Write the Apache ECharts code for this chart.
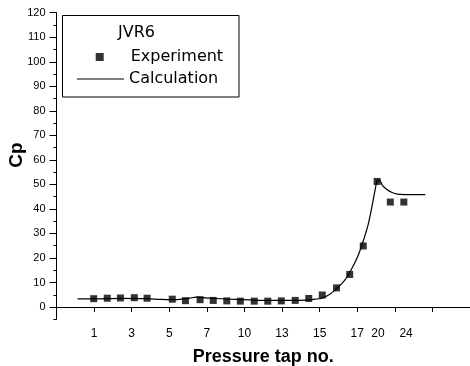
<!DOCTYPE html>
<html>
<head>
<meta charset="utf-8">
<script src="https://cdn.jsdelivr.net/npm/echarts@6/dist/echarts.min.js"></script>
<style>html,body{margin:0;padding:0;background:#fff}#c{width:470px;height:366px}</style>
</head>
<body>
<div id="c"></div>
<script>
// x positions are along the tap axis (one unit = one major tick)
const xTickPos = [1, 2, 3, 4, 5, 6, 7, 8, 9, 10];
const xLabelPos = [1, 2, 3, 4, 5, 6, 7, 8, 8.55, 9.3];
const xLabels = ['1', '3', '5', '7', '10', '13', '15', '17', '20', '24'];
const yLabelValues = [0, 10, 20, 30, 40, 50, 60, 70, 80, 90, 100, 110, 120];

const expX = [0.99, 1.35, 1.70, 2.07, 2.41, 3.08, 3.43, 3.82, 4.17, 4.53, 4.89, 5.26, 5.62, 5.98, 6.35, 6.71, 7.07, 7.45, 7.80, 8.16, 8.53, 8.88, 9.24];
const expCp = [3.4, 3.6, 3.7, 3.8, 3.6, 3.2, 2.6, 3.0, 2.7, 2.5, 2.4, 2.4, 2.4, 2.5, 2.7, 3.5, 4.9, 7.8, 13.3, 24.9, 51.2, 42.8, 42.8];

const calcX = [0.56, 0.98, 1.70, 2.41, 2.76, 3.16, 3.55, 3.71, 4.09, 4.62, 5.15, 5.68, 6.21, 6.61, 6.87, 7.06, 7.27, 7.45, 7.67, 7.85, 8.01, 8.14, 8.28, 8.38, 8.46, 8.53, 8.59, 8.67, 8.78, 8.91, 9.07, 9.39, 9.81];
const calcCp = [3.3, 3.3, 3.5, 3.4, 3.1, 3.0, 3.6, 4.0, 3.6, 3.2, 2.9, 2.7, 2.7, 2.8, 3.2, 3.6, 5.2, 7.5, 11.0, 15.5, 20.5, 26, 33, 40, 46.5, 51.5, 51.8, 49.6, 48.0, 46.8, 46.0, 45.8, 45.8];

const chart = echarts.init(document.getElementById('c'), null, {renderer: 'canvas'});
const black = '#000';
const labelFont = 'Liberation Sans, Arial, sans-serif';
const legendFont = 'DejaVu Sans, sans-serif';

const option = {
  backgroundColor: '#fff',
  animation: false,
  title: {
    text: 'JVR6', left: 118, top: 25, padding: 0,
    textStyle: {fontFamily: legendFont, fontSize: 16, fontWeight: 'normal', color: black}
  },
  legend: [{
    orient: 'vertical', left: 95.7, top: 49, padding: 0,
    itemWidth: 8, itemHeight: 8,
    textStyle: {fontFamily: legendFont, fontSize: 16, color: black, padding: [0, 0, 0, 22]},
    data: [{name: 'Experiment', icon: 'rect'}]
  }, {
    orient: 'vertical', left: 77, top: 71, padding: 0,
    itemWidth: 47, itemHeight: 1.2,
    textStyle: {fontFamily: legendFont, fontSize: 16, color: black},
    data: [{name: 'Calculation', icon: 'rect'}]
  }],
  graphic: [{
    type: 'rect', shape: {x: 62.5, y: 15.5, width: 176.5, height: 81.5},
    style: {fill: 'none', stroke: black, lineWidth: 1}, z: 10
  }],
  grid: {left: 56.5, right: 0, top: 12.7, bottom: 46.7, containLabel: false, outerBoundsMode: 'none'},
  xAxis: {
    type: 'value', min: 0, max: 11, interval: 1,
    name: 'Pressure tap no.', nameLocation: 'middle', nameGap: 29, nameMoveOverlap: false,
    nameTextStyle: {fontFamily: labelFont, fontSize: 18, fontWeight: 'bold', color: black},
    axisLine: {lineStyle: {color: black, width: 1}},
    axisTick: {show: true, length: 5, customValues: xTickPos, lineStyle: {color: black}},
    axisLabel: {
      customValues: xLabelPos, margin: 8, color: black, fontFamily: labelFont, fontSize: 12,
      formatter: function (v) {
        for (let i = 0; i < xLabelPos.length; i++) {
          if (Math.abs(xLabelPos[i] - v) < 1e-6) return xLabels[i];
        }
        return '';
      }
    },
    splitLine: {show: false}
  },
  yAxis: [{
    type: 'value', min: -5, max: 120, interval: 5, position: 'left',
    axisLine: {show: true, lineStyle: {color: black, width: 1}},
    axisTick: {show: true, length: 3, lineStyle: {color: black}},
    axisLabel: {show: false},
    splitLine: {show: false}
  }, {
    type: 'value', min: -5, max: 120, interval: 5, position: 'left',
    name: 'Cp', nameLocation: 'middle', nameGap: 30, nameMoveOverlap: false,
    nameTextStyle: {fontFamily: labelFont, fontSize: 19, fontWeight: 'bold', color: black, padding: [0, 0, 0, 22]},
    axisLine: {show: false},
    axisTick: {show: true, length: 7, customValues: yLabelValues, lineStyle: {color: black}},
    axisLabel: {customValues: yLabelValues, margin: 11, color: black, fontFamily: labelFont, fontSize: 11},
    splitLine: {show: false}
  }],
  series: [{
    name: 'Calculation', type: 'line', smooth: 0.3, symbol: 'none',
    lineStyle: {color: black, width: 1.2}, itemStyle: {color: black},
    data: calcX.map((x, i) => [x, calcCp[i]]), z: 2
  }, {
    name: 'Experiment', type: 'scatter', symbol: 'rect', symbolSize: 7,
    itemStyle: {color: black},
    data: expX.map((x, i) => [x, expCp[i]]), z: 3
  }]
};
chart.setOption(option);
</script>
</body>
</html>
